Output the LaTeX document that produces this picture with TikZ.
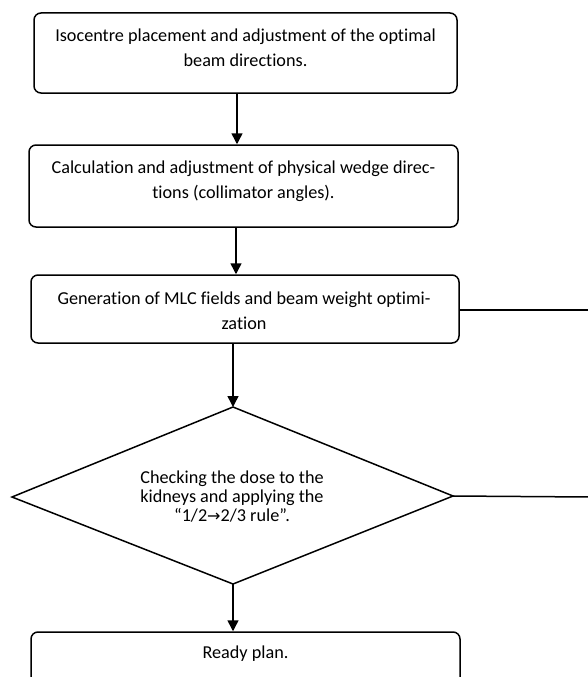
\documentclass[tikz,border=0pt]{standalone}
\usepackage{fontspec}
\setmainfont[Ligatures={NoCommon}]{Carlito}
\newfontfamily\symfont{DejaVu Sans}
\usetikzlibrary{arrows.meta}
\tikzset{
  box/.style={draw, line width=1.5pt, rounded corners=7pt, inner sep=0pt},
  txt/.style={align=center, inner sep=0pt, font=\fontsize{18.2}{25.5}\selectfont},
  dtxt/.style={align=center, inner sep=0pt, font=\fontsize{18.2}{19}\selectfont},
  arr/.style={line width=1.5pt, -{Triangle[length=11pt,width=11pt]}},
  ln/.style={line width=1.5pt}
}
\begin{document}
\begin{tikzpicture}[x=1pt,y=-1pt]
\useasboundingbox (0,0) rectangle (588,677);
\clip (0,0) rectangle (588,677);
% boxes
\node[box, minimum width=423pt, minimum height=80pt] (b1) at (245.5,53) {};
\node[box, minimum width=429pt, minimum height=82pt] (b2) at (243.5,186) {};
\node[box, minimum width=428pt, minimum height=68pt] (b3) at (245,309) {};
\node[box, minimum width=429pt, minimum height=56pt] (b4) at (245.5,660) {};
% diamond
\coordinate (dT) at (233,407);
\coordinate (dL) at (12,497);
\coordinate (dB) at (233,584);
\coordinate (dR) at (453,496);
\draw[ln, line join=miter] (dT) -- (dR) -- (dB) -- (dL) -- cycle;
% texts
\node[txt] (t1) at (245.5,48) {Isocentre placement and adjustment of the optimal\\beam directions.};
\node[txt] (t2) at (243.5,181) {Calculation and adjustment of physical wedge direc-\\tions (collimator angles).};
\node[txt] (t3) at (244,310.5) {Generation of MLC fields and beam weight optimi-\\zation};
\node[dtxt] (t4) at (232,497) {Checking the dose to the\\kidneys and applying the\\“1/2{\symfont\fontsize{16}{19}\selectfont →}2/3 rule”.};
\node[txt] (t5) at (245.5,654) {Ready plan.};
% connectors
\draw[arr] (b1.south -| 237,0) -- (b2.north -| 237,0);
\draw[arr] (b2.south -| 236,0) -- (b3.north -| 236,0);
\draw[arr] (b3.south -| 233,0) -- (dT);
\draw[arr] (dB) -- (b4.north -| 233,0);
\coordinate (e1) at (590,310);
\coordinate (e2) at (590,497);
\draw[ln] (b3.east |- e1) -- (e1);
\draw[ln] (dR) -- (e2);
\end{tikzpicture}
\end{document}
